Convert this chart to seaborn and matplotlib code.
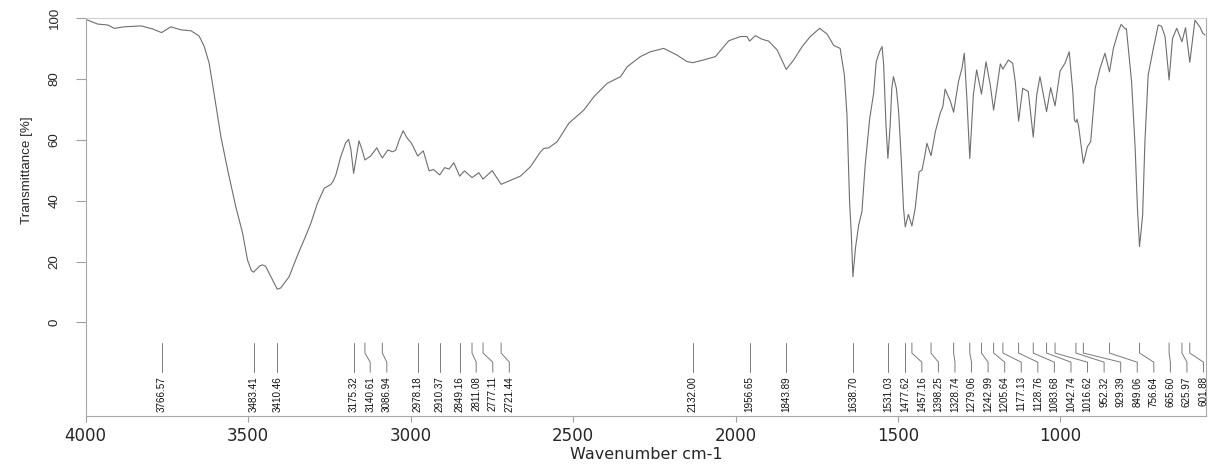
import matplotlib
matplotlib.use("Agg")
import matplotlib.pyplot as plt
from matplotlib import font_manager
import seaborn as sns
import pandas as pd

# spectrum (wavenumber cm-1, transmittance %)
wavenumber = [
    4000, 3994, 3963, 3932, 3912, 3881, 3830, 3794, 3766.57, 3738, 3707, 3676,
    3651, 3635, 3620, 3605, 3584, 3563, 3538, 3517, 3502, 3490, 3483.41, 3465,
    3456, 3446, 3430, 3410.46, 3400, 3374, 3348, 3328, 3307, 3287, 3266, 3246,
    3238, 3230, 3215, 3200, 3191, 3184, 3175.32, 3166, 3159, 3150, 3140.61, 3123,
    3104, 3095, 3086.94, 3070, 3056, 3046, 3035, 3023, 3010, 2997, 2978.18, 2961,
    2943, 2930, 2910.37, 2895, 2882, 2867, 2849.16, 2834, 2811.08, 2790, 2777.11,
    2749, 2721.44, 2697, 2662, 2631, 2600, 2590, 2575, 2549, 2513, 2467, 2436,
    2395, 2354, 2333, 2293, 2262, 2221, 2180, 2150, 2132.00, 2098, 2062, 2021,
    1985, 1965, 1956.65, 1939, 1918, 1898, 1872, 1843.89, 1821, 1795, 1770, 1741,
    1718, 1698, 1678, 1665, 1657, 1649, 1644, 1638.70, 1631, 1621, 1611, 1601,
    1587, 1575, 1567, 1557, 1549, 1544, 1537, 1531.03, 1524, 1519, 1514, 1505,
    1498, 1490, 1483, 1477.62, 1468, 1457.16, 1447, 1435, 1426, 1419, 1411,
    1398.25, 1385, 1370, 1362, 1355, 1339, 1328.74, 1314, 1303, 1296, 1288,
    1279.06, 1268, 1258, 1242.99, 1229, 1216, 1205.64, 1185, 1177.13, 1160, 1147,
    1139, 1128.76, 1116, 1099, 1083.68, 1073, 1063, 1042.74, 1030, 1016.62, 1001,
    986, 973, 962, 957, 952.32, 949, 944, 929.39, 917, 907, 893, 878, 863, 849.06,
    837, 822, 813, 801, 797, 781, 770, 763, 756.64, 747, 740, 730, 714, 699, 689,
    678, 665.60, 655, 642, 625.97, 615, 601.88, 586, 571, 562, 555,
]
transmittance = [
    99.8, 99.4, 98.1, 97.8, 96.7, 97.2, 97.5, 96.5, 95.3, 97.2, 96.2, 95.9,
    94.2, 90.7, 85.2, 75.3, 61.1, 50.1, 38.0, 29.3, 20.5, 17.0, 16.5, 18.5,
    18.9, 18.4, 15.0, 10.9, 11.3, 15.0, 22.1, 27.1, 32.6, 39.1, 44.1, 45.3,
    46.5, 48.5, 54.5, 59.0, 60.2, 57.0, 49.0, 55.0, 59.7, 57.0, 53.4, 54.7,
    57.4, 55.5, 54.1, 56.7, 56.1, 56.6, 60.0, 63.0, 60.5, 58.9, 54.7, 56.4,
    49.8, 50.3, 48.5, 50.9, 50.4, 52.5, 48.1, 49.8, 47.6, 49.2, 47.1,
    49.9, 45.4, 46.5, 48.1, 51.2, 56.1, 57.2, 57.4, 59.4, 65.5, 69.8, 74.2,
    78.6, 80.8, 84.1, 87.4, 89.0, 90.1, 87.9, 85.8, 85.4, 86.3, 87.4, 92.6,
    94.0, 94.0, 92.5, 94.3, 93.1, 92.5, 89.6, 83.2, 86.3, 90.7, 94.0, 96.7,
    94.8, 91.1, 90.1, 81.3, 68.2, 39.7, 29.8, 15.0, 24.3, 32.0, 36.4, 51.7,
    67.1, 75.3, 85.7, 89.0, 90.7, 84.6, 64.9, 53.9, 64.9, 77.0, 80.8, 77.0,
    69.3, 53.9, 37.5, 31.4, 35.5, 31.7, 37.5, 49.5, 50.1, 53.9, 58.9,
    54.8, 62.7, 68.8, 70.9, 76.7, 72.8, 69.1, 79.1, 83.6, 88.5, 73.7,
    53.9, 74.8, 83.0, 75.1, 85.7, 78.1, 69.8, 85.0, 83.3, 86.3, 85.2,
    79.1, 66.2, 77.0, 75.9, 60.9, 74.8, 80.8, 69.3, 77.2, 71.2, 82.7,
    85.2, 89.0, 75.9, 66.5, 65.8, 66.8, 64.5, 52.3, 57.8, 59.4, 77.0, 83.6, 88.5, 82.4,
    90.1, 95.6, 98.0, 96.5, 96.6, 79.1, 57.2, 37.5, 24.9, 35.3, 59.4, 81.3, 90.1, 97.8, 97.4,
    94.0, 79.7, 93.4, 96.7, 92.3, 96.9, 85.5, 99.4, 97.2, 95.1, 94.5,
]

# picked peaks
peaks = [
    3766.57, 3483.41, 3410.46, 3175.32, 3140.61, 3086.94, 2978.18, 2910.37,
    2849.16, 2811.08, 2777.11, 2721.44, 2132.00, 1956.65, 1843.89, 1638.70,
    1531.03, 1477.62, 1457.16, 1398.25, 1328.74, 1279.06, 1242.99, 1205.64,
    1177.13, 1128.76, 1083.68, 1042.74, 1016.62, 952.32, 929.39, 849.06,
    756.64, 665.60, 625.97, 601.88,
]

x_ticks = [4000, 3500, 3000, 2500, 2000, 1500, 1000]
y_ticks = [0, 20, 40, 60, 80, 100]

spec = pd.DataFrame({"wavenumber": wavenumber, "transmittance": transmittance})

sns.set_theme(style="ticks")
plt.rcParams["font.family"] = ["DejaVu Sans"]

# vertical texts are condensed in the original; use a narrow face if present
installed = {f.name for f in font_manager.fontManager.ttflist}
if "Liberation Sans Narrow" in installed:
    narrow, k = ["Liberation Sans Narrow", "DejaVu Sans"], 1.0
else:
    narrow, k = ["Liberation Sans", "DejaVu Sans"], 0.82

fig = plt.figure(figsize=(12.12, 4.68), dpi=100)
ax = fig.add_axes([85.7 / 1212, 1 - 416 / 468, (1206 - 85.7) / 1212, (416 - 18.3) / 468])

sns.lineplot(data=spec, x="wavenumber", y="transmittance", sort=False,
             estimator=None, color="#6e6e6e", linewidth=0.8, ax=ax)

# peak markers with leader lines, labels pushed apart when crowded
min_gap = 51
prev = None
for p in peaks:
    lx = p if prev is None else min(p, prev - min_gap)
    prev = lx
    if lx == p:
        ax.plot([p, p], [-6.8, -16.4], color="#7a7a7a", lw=0.7)
    else:
        ax.plot([p, p, lx, lx], [-6.8, -10.1, -13.1, -16.4], color="#7a7a7a", lw=0.7)
    ax.text(lx, -17.8, f"{p:.2f}", rotation=90, ha="center", va="top",
            fontsize=8.7 * k, family=narrow, color="#111111")

ax.set_xlim(4000, 552)
ax.set_ylim(-30.8, 100)
ax.set_xticks(x_ticks)
ax.set_yticks(y_ticks)
ax.set_xticklabels([str(t) for t in x_ticks], fontsize=12)
ax.set_yticklabels([str(t) for t in y_ticks], fontsize=11.6 * k, family=narrow,
                   rotation=90, va="center")
ax.tick_params(axis="x", length=4.5, width=0.8, color="#a0a0a0", pad=3.5)
ax.tick_params(axis="y", length=7, width=0.8, color="#a0a0a0", pad=11)

ax.set_xlabel("Wavenumber cm-1", fontsize=11.5)
ax.xaxis.set_label_coords(0.5, -0.077)
ax.set_ylabel("Transmittance [%]", fontsize=11.8 * k, family=narrow)
ylo, yhi = ax.get_ylim()
ax.yaxis.set_label_coords(-0.047, (50 - ylo) / (yhi - ylo))

for side in ["left", "bottom", "right"]:
    ax.spines[side].set_color("#a8a8a8")
    ax.spines[side].set_linewidth(0.8)
ax.spines["top"].set_color("#d0d0d0")
ax.spines["top"].set_linewidth(0.8)

fig.savefig("out.png", dpi=100)
